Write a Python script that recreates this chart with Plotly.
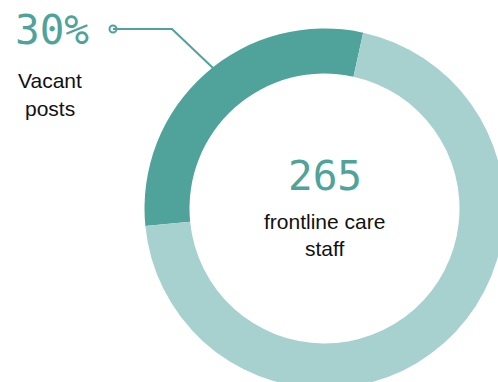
import plotly.graph_objects as go

# ---- data ----
labels = ["Vacant posts", "Filled posts"]
values = [30, 70]
colors = ["#4FA39A", "#A7D1CE"]
total_staff = 265
pct_label = "30%"

# connector (pixel coordinates on a hidden overlay axis)
connector_x = [113, 172, 213]
connector_y = [29, 29, 68]

W, H = 506, 390
cx, cy, R = 324.5, 208.5, 180

fig = go.Figure()
fig.add_trace(go.Pie(
    labels=labels, values=values, sort=False, direction="clockwise",
    rotation=-95.6, hole=0.75, marker=dict(colors=colors, line=dict(width=0)),
    textinfo="none", hoverinfo="skip", showlegend=False,
    domain=dict(x=[(cx - R) / W, (cx + R) / W], y=[1 - (cy + R) / H, 1 - (cy - R) / H]),
))
fig.add_trace(go.Scatter(
    x=connector_x, y=connector_y, mode="lines", line=dict(color="#4FA39A", width=2),
    hoverinfo="skip", showlegend=False,
))
fig.add_trace(go.Scatter(
    x=connector_x[:1], y=connector_y[:1], mode="markers",
    marker=dict(symbol="circle-open", size=7, color="#4FA39A", line=dict(width=2)),
    hoverinfo="skip", showlegend=False,
))

teal = "#4FA39A"
ann = [
    dict(x=52, y=30, text=pct_label, font=dict(family="DejaVu Sans Mono", size=41, color=teal)),
    dict(x=50, y=80, text="Vacant", font=dict(family="Liberation Sans", size=21, color="#111")),
    dict(x=50, y=108, text="posts", font=dict(family="Liberation Sans", size=21, color="#111")),
    dict(x=cx, y=176, text=str(total_staff), font=dict(family="DejaVu Sans Mono", size=41, color=teal)),
    dict(x=cx, y=221, text="frontline care", font=dict(family="Liberation Sans", size=21, color="#111")),
    dict(x=cx, y=248, text="staff", font=dict(family="Liberation Sans", size=21, color="#111")),
]
for a in ann:
    fig.add_annotation(xref="x", yref="y", showarrow=False, xanchor="center", yanchor="middle", **a)

fig.update_layout(
    width=W, height=H, margin=dict(l=0, r=0, t=0, b=0),
    paper_bgcolor="white", plot_bgcolor="rgba(0,0,0,0)",
    xaxis=dict(range=[0, W], visible=False, fixedrange=True),
    yaxis=dict(range=[H, 0], visible=False, fixedrange=True),
)

fig.write_html("out.html", post_script="document.body.style.margin='0';document.body.style.overflow='hidden';")
